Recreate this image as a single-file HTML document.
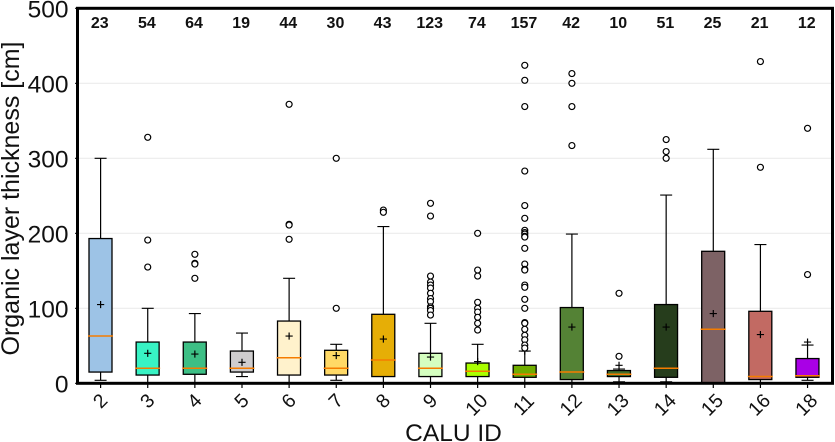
<!DOCTYPE html>
<html>
<head>
<meta charset="utf-8">
<style>
html,body{margin:0;padding:0;background:#fff;width:835px;height:442px;overflow:hidden}
svg{display:block;font-family:"Liberation Sans",sans-serif}
</style>
</head>
<body>
<svg id="chart" width="835" height="442" viewBox="0 0 835 442" xmlns="http://www.w3.org/2000/svg">
  <text transform="translate(19,198.5) rotate(-90)" text-anchor="middle" font-size="25" fill="#111">Organic layer thickness [cm]</text>
  <text x="453.5" y="441" text-anchor="middle" font-size="24.5" fill="#111">CALU ID</text>
</svg>
<script>
const categories = ['2','3','4','5','6','7','8','9','10','11','12','13','14','15','16','18'];
const counts = [23,54,64,19,44,30,43,123,74,157,42,10,51,25,21,12];
const q1 = [15,11,12,15,11,11,9,9,9,8,5,9,8,0,5,8];
const q3 = [193,55,55,43,83,44,92,40,27,24,101,17,105,176,96,33];
const medians = [63,20,20,20,34,20,31,20,16,12,15,12,20,72,9,10];
const means = [105,40,39,28,63,37,59,35,29,43,75,24,75,93,65,55];
const whiskerLow = [4,0,0,9,0,4,0,0,0,0,0,2,2,0,0,4];
const whiskerHigh = [300,100,93,67,140,52,209,80,52,43,199,19,251,312,185,51];
const outliers = [
  [],
  [328,191,155],
  [172,160,159,140],
  [],
  [372,212,211,192],
  [300,100],
  [231,228],
  [240,223,143,135,131,127,120,113,109,102,100,97,91],
  [200,151,143,108,100,95,88,80,71],
  [424,404,369,283,237,220,204,201,199,196,195,180,159,152,151,131,128,112,100,81,80,72,64,58,51,47],
  [413,400,369,317],
  [120,36],
  [325,309,300],
  [],
  [429,288],
  [340,145]
];
const colors = ['#9DC3E6','#38F3C4','#3DBF85','#CFCDCE','#FFF2CC','#FFD966','#E6AE06','#D5FFC0','#AAFF00','#70AD00','#548235','#41702B','#263D1C','#7D6265','#C26A63','#A900E6'];
const yTicks = [0,100,200,300,400,500];

const svg = document.getElementById('chart');
const NS = 'http://www.w3.org/2000/svg';
function yScale(v){ return 383.3 - v * 0.75; }
function xScale(i){ return 100.6 + i * 47.13; }
function make(tag, attrs, parent){
  const el = document.createElementNS(NS, tag);
  for (const k in attrs) el.setAttribute(k, attrs[k]);
  (parent || svg).appendChild(el);
  return el;
}

yTicks.forEach(function(t){
  if (t > 0 && t < 500) {
    const grid = make('line', {x1:78, x2:832, y1:yScale(t), y2:yScale(t), stroke:'#ebebeb', 'stroke-width':1.2});
    
    
  }
  const yTick = make('line', {x1:75, x2:78, y1:yScale(t), y2:yScale(t), stroke:'#000', 'stroke-width':1});
  
  
  const label = make('text', {x:68.5, y:yScale(t) + 9.2, 'text-anchor':'end', 'font-size':24.5, fill:'#111'});
  label.textContent = t;
  
  
});

categories.forEach(function(cat, i){
  const x = xScale(i);
  const g = make('g', {});
  
  

  const wLine = make('path', {
    d: 'M' + x + ' ' + yScale(q3[i]) + 'V' + yScale(whiskerHigh[i]) + 'M' + (x - 6) + ' ' + yScale(whiskerHigh[i]) + 'H' + (x + 6) +
       'M' + x + ' ' + yScale(q1[i]) + 'V' + yScale(whiskerLow[i]) + 'M' + (x - 6) + ' ' + yScale(whiskerLow[i]) + 'H' + (x + 6),
    stroke:'#000', 'stroke-width':1.2, fill:'none'}, g);
  
  

  const rect = make('rect', {x:x - 11.6, y:yScale(q3[i]), width:23, height:yScale(q1[i]) - yScale(q3[i]), fill:colors[i], stroke:'#000', 'stroke-width':1.3}, g);
  
  

  const med = make('line', {x1:x - 12.6, x2:x + 12.4, y1:yScale(medians[i]), y2:yScale(medians[i]), stroke:'#F57C00', 'stroke-width':1.5}, g);
  
  

  const mean = make('path', {d:'M' + (x - 3.6) + ' ' + yScale(means[i]) + 'H' + (x + 3.6) + 'M' + x + ' ' + (yScale(means[i]) - 3.6) + 'V' + (yScale(means[i]) + 3.6), stroke:'#000', 'stroke-width':1.2, fill:'none'}, g);
  
  

  outliers[i].forEach(function(v){
    const c = make('circle', {cx:x, cy:yScale(v), r:3, fill:'#fff', stroke:'#000', 'stroke-width':1.2}, g);
    
    
  });

  const count = make('text', {x:x - 0.8, y:28.2, 'text-anchor':'middle', 'font-size':16, 'font-weight':'bold', fill:'#111'});
  count.textContent = counts[i];
  
  

  const tick = make('line', {x1:x, x2:x, y1:383, y2:388, stroke:'#000', 'stroke-width':1.2});
  
  

  const fs = 19.5;
  const cy = 392 + (cat.length * 0.556 + 0.7) * fs * 0.3535;
  const label = make('text', {transform:'translate(' + (x - 0.6 - (cat.length - 1) * 0.8) + ',' + cy + ') rotate(-45)', 'text-anchor':'middle', y:fs * 0.35, 'font-size':fs, fill:'#111'});
  label.textContent = cat;
  
  
});

const frame = make('rect', {x:77.5, y:8.3, width:755, height:375, fill:'none', stroke:'#000', 'stroke-width':3});


</script>
</body>
</html>
